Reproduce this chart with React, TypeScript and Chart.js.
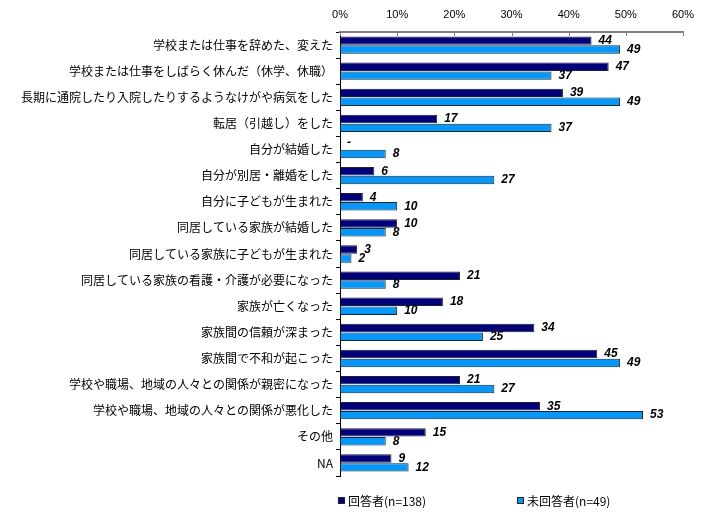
import React, { useEffect, useRef } from "react";
import { Chart, registerables } from "chart.js";

Chart.register(...registerables);

const categories = [
  "学校または仕事を辞めた、変えた",
  "学校または仕事をしばらく休んだ（休学、休職）",
  "長期に通院したり入院したりするようなけがや病気をした",
  "転居（引越し）をした",
  "自分が結婚した",
  "自分が別居・離婚をした",
  "自分に子どもが生まれた",
  "同居している家族が結婚した",
  "同居している家族に子どもが生まれた",
  "同居している家族の看護・介護が必要になった",
  "家族が亡くなった",
  "家族間の信頼が深まった",
  "家族間で不和が起こった",
  "学校や職場、地域の人々との関係が親密になった",
  "学校や職場、地域の人々との関係が悪化した",
  "その他",
  "NA",
];

const respondents = [44, 47, 39, 17, 0, 6, 4, 10, 3, 21, 18, 34, 45, 21, 35, 15, 9];
const nonRespondents = [49, 37, 49, 37, 8, 27, 10, 8, 2, 8, 10, 25, 49, 27, 53, 8, 12];

const seriesNames = ["回答者(n=138)", "未回答者(n=49)"];
const seriesColors = ["#000080", "#0099FF"];
const xMin = 0;
const xMax = 60;
const xStep = 10;

const JP_FONT = "'Noto Sans CJK JP', 'Liberation Sans', sans-serif";
const NUM_FONT = "'Liberation Sans', Arial, sans-serif";

const valueLabelPlugin = {
  id: "valueLabels",
  afterDatasetsDraw(chart: any) {
    const ctx = chart.ctx;
    ctx.save();
    ctx.font = `italic bold 12px ${NUM_FONT}`;
    ctx.fillStyle = "#000000";
    ctx.textAlign = "left";
    ctx.textBaseline = "middle";
    chart.data.datasets.forEach((ds: any, di: number) => {
      const meta = chart.getDatasetMeta(di);
      meta.data.forEach((el: any, i: number) => {
        const v = ds.data[i];
        const txt = v === 0 ? "-" : String(v);
        ctx.fillText(txt, el.x + 7, el.y + (v === 0 ? -2 : 0));
      });
    });
    ctx.restore();
  },
};

const xTickMarkPlugin = {
  id: "xTickMarks",
  afterDraw(chart: any) {
    const ctx = chart.ctx;
    const xs = chart.scales.x;
    const top = chart.chartArea.top;
    ctx.save();
    ctx.strokeStyle = "#808080";
    ctx.lineWidth = 1;
    for (let v = xMin; v <= xMax; v += xStep) {
      const x = Math.round(xs.getPixelForValue(v)) + 0.5;
      ctx.beginPath();
      ctx.moveTo(x, top);
      ctx.lineTo(x, top + 4);
      ctx.stroke();
    }
    ctx.restore();
  },
};

const customLegendPlugin = {
  id: "customLegend",
  afterDraw(chart: any) {
    const ctx = chart.ctx;
    const positions = [338, 517];
    const y = 501;
    ctx.save();
    ctx.font = `12px ${JP_FONT}`;
    ctx.textBaseline = "middle";
    ctx.textAlign = "left";
    seriesNames.forEach((name, i) => {
      const x = positions[i];
      ctx.fillStyle = seriesColors[i];
      ctx.fillRect(x, y - 4, 7, 7);
      ctx.strokeStyle = "#222222";
      ctx.lineWidth = 1;
      ctx.strokeRect(x + 0.5, y - 3.5, 6, 6);
      ctx.fillStyle = "#000000";
      ctx.fillText(name, x + 10, y);
    });
    ctx.restore();
  },
};

export default function App() {
  const canvasRef = useRef<HTMLCanvasElement | null>(null);

  useEffect(() => {
    if (!canvasRef.current) return;
    const chart = new Chart(canvasRef.current, {
      type: "bar",
      data: {
        labels: categories,
        datasets: [
          {
            label: seriesNames[0],
            data: respondents,
            backgroundColor: seriesColors[0],
            borderColor: "#222222",
            borderWidth: 1,
            categoryPercentage: 0.68,
            barPercentage: 0.95,
          },
          {
            label: seriesNames[1],
            data: nonRespondents,
            backgroundColor: seriesColors[1],
            borderColor: "#222222",
            borderWidth: 1,
            categoryPercentage: 0.68,
            barPercentage: 0.95,
          },
        ],
      },
      options: {
        indexAxis: "y",
        responsive: false,
        animation: false,
        layout: { padding: { left: 0, right: 30, top: 0, bottom: 46 } },
        plugins: {
          legend: { display: false },
          tooltip: { enabled: false },
        },
        scales: {
          x: {
            position: "top",
            min: xMin,
            max: xMax,
            ticks: {
              stepSize: xStep,
              callback: (v: any) => v + "%",
              color: "#000000",
              font: { family: NUM_FONT, size: 11 },
              padding: 10,
            },
            grid: { drawOnChartArea: false, drawTicks: false },
            border: { display: true, color: "#808080", width: 2 },
            afterFit: (scale: any) => {
              scale.height = 32;
            },
          },
          y: {
            ticks: {
              color: "#000000",
              font: { family: JP_FONT, size: 12 },
              padding: 3,
              autoSkip: false,
            },
            grid: {
              drawOnChartArea: false,
              drawTicks: true,
              tickLength: 4,
              color: "#000000",
              offset: true,
            },
            border: { display: true, color: "#000000", width: 1 },
            afterFit: (scale: any) => {
              scale.width = 340;
            },
          },
        },
      },
      plugins: [valueLabelPlugin, xTickMarkPlugin, customLegendPlugin],
    } as any);
    return () => chart.destroy();
  }, []);

  return (
    <div style={{ position: "fixed", left: 0, top: 0, width: 713, height: 522, background: "#ffffff" }}>
      <canvas ref={canvasRef} width={713} height={522} />
    </div>
  );
}
